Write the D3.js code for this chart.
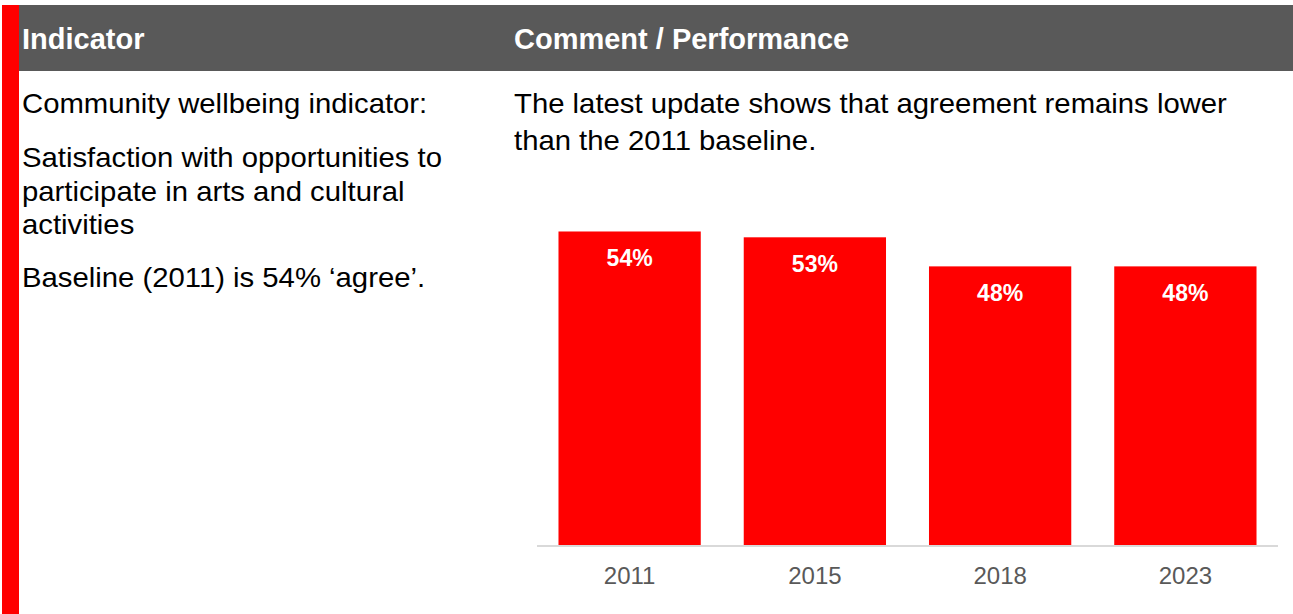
<!DOCTYPE html>
<html>
<head>
<meta charset="utf-8">
<script src="https://cdn.jsdelivr.net/npm/d3@7"></script>
<style>
  html, body { margin: 0; padding: 0; background: #ffffff; }
  svg { display: block; font-family: "Liberation Sans", Arial, sans-serif; }
</style>
</head>
<body>
<svg id="chart" width="1293" height="614"></svg>
<script>
// ---- data ----
const years = ["2011", "2015", "2018", "2023"];
const agreePct = [54, 53, 48, 48];
const headerLabels = ["Indicator", "Comment / Performance"];
const indicatorLines = [
  "Community wellbeing indicator:",
  "Satisfaction with opportunities to",
  "participate in arts and cultural",
  "activities",
  "Baseline (2011) is 54% \u2018agree\u2019."
];
const commentLines = [
  "The latest update shows that agreement remains lower",
  "than the 2011 baseline."
];

const W = 1293, H = 614;
const svg = d3.select("#chart");

// red side strip
svg.append("rect").attr("x", 2).attr("y", 5).attr("width", 17).attr("height", H - 5).attr("fill", "#ff0000");
// header band
svg.append("rect").attr("x", 19).attr("y", 5).attr("width", W - 19).attr("height", 66).attr("fill", "#595959");

const headerX = [22, 514];
svg.selectAll("text.hdr").data(headerLabels).join("text")
  .attr("class", "hdr")
  .attr("x", (d, i) => headerX[i]).attr("y", 48.5)
  .attr("fill", "#ffffff").attr("font-size", 29).attr("font-weight", "bold")
  .text(d => d);

// left column text (slightly wide set)
const sx = 1.085;
const leftBaselines = [113.5, 167, 201, 234.5, 287];
const gl = svg.append("g").attr("transform", `translate(22,0) scale(${sx},1)`);
gl.selectAll("text").data(indicatorLines).join("text")
  .attr("x", 0).attr("y", (d, i) => leftBaselines[i])
  .attr("fill", "#000000").attr("font-size", 27)
  .text(d => d);

const rightBaselines = [113.5, 150];
const gr = svg.append("g").attr("transform", `translate(514,0) scale(${sx},1)`);
gr.selectAll("text").data(commentLines).join("text")
  .attr("x", 0).attr("y", (d, i) => rightBaselines[i])
  .attr("fill", "#000000").attr("font-size", 27)
  .text(d => d);

// ---- bar chart ----
const x = d3.scaleBand().domain(years).range([537, 1278]).paddingInner(0.232).paddingOuter(0.116);
const y = d3.scaleLinear().domain([0, 60]).range([545.5, 196.6]);

svg.selectAll("rect.bar").data(agreePct).join("rect")
  .attr("class", "bar")
  .attr("x", (d, i) => x(years[i]))
  .attr("y", d => y(d))
  .attr("width", x.bandwidth())
  .attr("height", d => y(0) - y(d))
  .attr("fill", "#ff0000");

svg.selectAll("text.val").data(agreePct).join("text")
  .attr("class", "val")
  .attr("x", (d, i) => x(years[i]) + x.bandwidth() / 2)
  .attr("y", d => y(d) + 34.5)
  .attr("text-anchor", "middle")
  .attr("fill", "#ffffff").attr("font-size", 23).attr("font-weight", "bold")
  .text(d => d + "%");

// x axis
const axis = svg.append("g").attr("transform", `translate(0,${y(0)})`)
  .call(d3.axisBottom(x).tickSize(0).tickPadding(0));
axis.select(".domain").attr("stroke", "#d9d9d9").attr("stroke-width", 2).attr("d", "M537,0.5H1278");
axis.selectAll(".tick text")
  .attr("y", 38).attr("dy", null)
  .attr("fill", "#595959").attr("font-size", 24)
  .attr("font-family", "\"Liberation Sans\", Arial, sans-serif");
</script>
</body>
</html>
